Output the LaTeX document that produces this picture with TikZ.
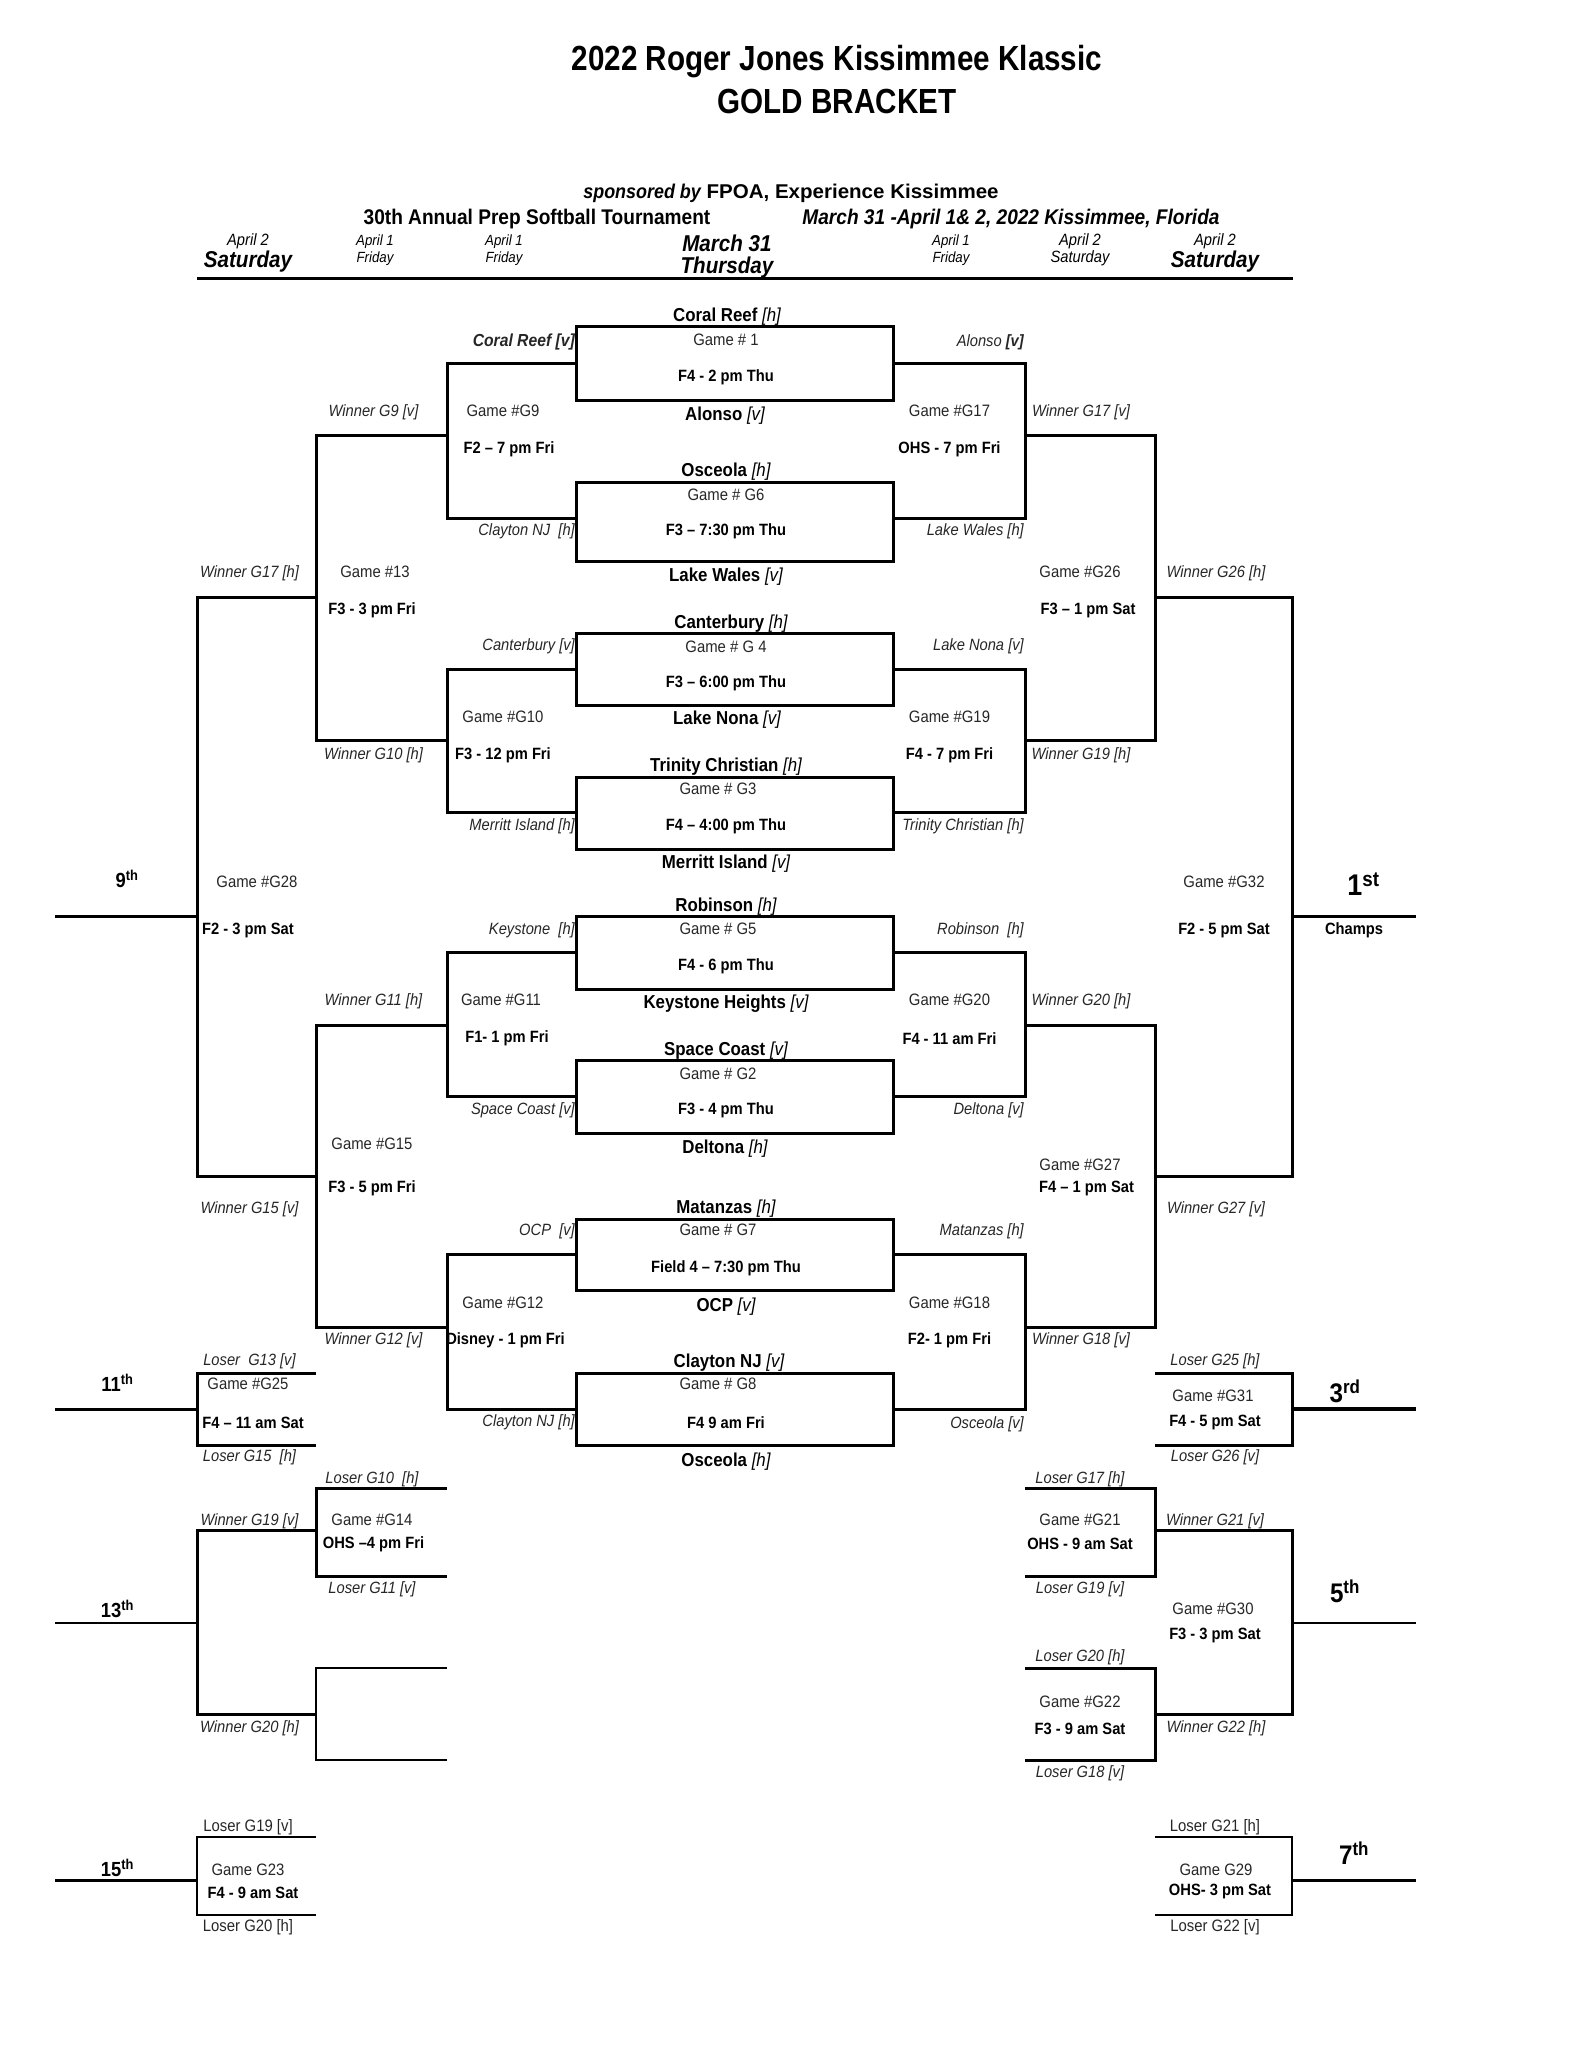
\documentclass[tikz,border=0pt]{standalone}
\usepackage{fontspec}
\setmainfont{Liberation Sans}[FakeStretch=0.9]
\newfontfamily\narrowfont{Liberation Sans}[FakeStretch=0.85]
\newfontfamily\widefont{Liberation Sans}[FakeStretch=1.03]
\usepackage{tikz}
\def\bracketarm[#1](#2)(#3:#4:#5){\draw[#1] (#3, #4) -- (#2, #4) -- (#2, #5) -- (#3, #5);}
\tikzset{
	bk/.style={line width=3bp},
	thin line/.style={line width=2.2bp},
	txt/.style={inner sep=0pt, text=black, yshift=-1.4bp},
	slot/.style={txt, font=\fontsize{16.4}{18}\selectfont\itshape, text=black!85},
	slotr/.style={slot, anchor=east},
	game/.style={txt, yshift=1.2bp, font=\fontsize{16.6}{18}\selectfont, text=black!85},
	gtime/.style={txt, font=\fontsize{16.4}{18}\selectfont\bfseries},
	team/.style={txt, font=\fontsize{18.8}{20}\selectfont\bfseries},
	place/.style={txt, yshift=2.4bp, font=\fontsize{20.5}{22}\selectfont\bfseries},
	bigplace/.style={txt, font=\fontsize{27}{28}\selectfont\bfseries},
	daysmall/.style={txt, font=\fontsize{14.8}{16}\selectfont\itshape},
	daymid/.style={txt, font=\fontsize{16.4}{18}\selectfont\itshape},
	daybig/.style={txt, font=\fontsize{23}{26}\selectfont\bfseries\itshape},
	headline/.style={txt, font=\fontsize{21.3}{24}\selectfont\bfseries},
	titleline/.style={txt, font=\fontsize{35}{38}\selectfont\narrowfont\bfseries},
}
\def\tag#1{{\mdseries\itshape #1}}

\begin{document}
\begin{tikzpicture}[x=1bp, y=-1bp]
			\useasboundingbox (0, 0) rectangle (1583, 2048);

			%%%%% HEADER %%%%%

			\node[titleline] (title) at (837, 60) {2022 Roger Jones Kissimmee Klassic};
			\node[titleline] (gold) at (837, 100) {GOLD BRACKET};
			\node[txt, font=\fontsize{20}{22}\selectfont\bfseries] (sponsor) at (791, 192) {\textit{sponsored by} {\widefont FPOA, Experience Kissimmee}};
			\node[headline] (annual) at (537, 218) {30th Annual Prep Softball Tournament};
			\node[headline, font=\fontsize{21.3}{24}\selectfont\bfseries\itshape] (dates) at (1011, 218) {March 31 -April 1\& 2, 2022 Kissimmee, Florida};

			\node[daymid] (d1a) at (248, 240) {April 2};
			\node[daybig] (d1b) at (248, 260) {Saturday};
			\node[daysmall] (d2a) at (375, 240) {April 1};
			\node[daysmall] (d2b) at (375, 257) {Friday};
			\node[daysmall] (d3a) at (504, 240) {April 1};
			\node[daysmall] (d3b) at (504, 257) {Friday};
			\node[daybig] (d4a) at (727, 242) {March 31};
			\node[daybig] (d4b) at (727, 266) {Thursday};
			\node[daysmall] (d5a) at (951, 240) {April 1};
			\node[daysmall] (d5b) at (951, 257) {Friday};
			\node[daymid] (d6a) at (1080, 240) {April 2};
			\node[daymid] (d6b) at (1080, 257) {Saturday};
			\node[daymid] (d7a) at (1215, 240) {April 2};
			\node[daybig] (d7b) at (1215, 260) {Saturday};

			\draw[line width=3bp] (197, 278) -- (1293, 278);

			%%%%% BOXES %%%%%

			\draw[bk] (576, 326.5) rectangle (893, 400);
			\draw[bk] (576, 482) rectangle (893, 561.6);
			\draw[bk] (576, 633.5) rectangle (893, 705);
			\draw[bk] (576, 777) rectangle (893, 849);
			\draw[bk] (576, 916) rectangle (893, 989);
			\draw[bk] (576, 1060.8) rectangle (893, 1133);
			\draw[bk] (576, 1219) rectangle (893, 1290);
			\draw[bk] (576, 1373) rectangle (893, 1445);

			%%%%% LEFT LINES %%%%%

			\bracketarm[bk](447)(576:363:518.5);
			\bracketarm[bk](447)(576:669:812);
			\bracketarm[bk](447)(576:952.7:1096.7);
			\bracketarm[bk](447)(576:1254.7:1409);
			\bracketarm[bk](316)(447:435:740.5);
			\bracketarm[bk](316)(447:1025:1327);
			\bracketarm[bk](197)(316:597:1176);
			\draw[bk] (55, 916) -- (197, 916);

			\bracketarm[bk](197)(316:1373:1445);
			\draw[bk] (55, 1409) -- (197, 1409);
			\bracketarm[bk](316)(447:1488:1576);
			\bracketarm[thin line](316)(447:1668:1760);
			\bracketarm[bk](197)(316:1530.7:1714);
			\draw[thin line] (55, 1623) -- (197, 1623);
			\bracketarm[thin line](197)(316:1837:1915);
			\draw[bk] (55, 1880) -- (197, 1880);

			%%%%% RIGHT LINES %%%%%

			\bracketarm[bk](1025)(893:363:518.5);
			\bracketarm[bk](1025)(893:669:812);
			\bracketarm[bk](1025)(893:952.7:1096.7);
			\bracketarm[bk](1025)(893:1254.7:1409);
			\bracketarm[bk](1155)(1025:435:740.5);
			\bracketarm[bk](1155)(1025:1025:1327);
			\bracketarm[bk](1292)(1155:597:1176);
			\draw[bk] (1292, 916) -- (1416, 916);

			\bracketarm[bk](1292)(1155:1373:1445);
			\draw[line width=3.4bp] (1292, 1409) -- (1416, 1409);
			\bracketarm[bk](1155)(1025:1488:1576);
			\bracketarm[bk](1155)(1025:1668.6:1760.5);
			\bracketarm[bk](1292)(1155:1530.7:1714);
			\draw[thin line] (1292, 1623) -- (1416, 1623);
			\bracketarm[thin line](1292)(1155:1837:1915);
			\draw[bk] (1292, 1880) -- (1416, 1880);

			%%%%% TEAMS %%%%%

			\node[team] (t1a) at (727, 315) {Coral Reef \tag{[h]}};
			\node[team] (t1b) at (725, 414) {Alonso \tag{[v]}};
			\node[team] (t6a) at (726, 470) {Osceola \tag{[h]}};
			\node[team] (t6b) at (726, 575) {Lake Wales \tag{[v]}};
			\node[team] (t4a) at (731, 622) {Canterbury \tag{[h]}};
			\node[team] (t4b) at (727, 718) {Lake Nona \tag{[v]}};
			\node[team] (t3a) at (726, 765) {Trinity Christian \tag{[h]}};
			\node[team] (t3b) at (726, 862) {Merritt Island \tag{[v]}};
			\node[team] (t5a) at (726, 905) {Robinson \tag{[h]}};
			\node[team] (t5b) at (726, 1002) {Keystone Heights \tag{[v]}};
			\node[team] (t2a) at (726, 1049) {Space Coast \tag{[v]}};
			\node[team] (t2b) at (725, 1147) {Deltona \tag{[h]}};
			\node[team] (t7a) at (726, 1207) {Matanzas \tag{[h]}};
			\node[team] (t7b) at (726, 1305) {OCP \tag{[v]}};
			\node[team] (t8a) at (729, 1361) {Clayton NJ \tag{[v]}};
			\node[team] (t8b) at (726, 1460) {Osceola \tag{[h]}};

			%%%%% FIRST ROUND %%%%%

			\node[game] (g1) at (726, 340) {Game \# 1};
			\node[gtime] (g1t) at (726, 376) {F4 - 2 pm Thu};
			\node[game] (g6) at (726, 495) {Game \# G6};
			\node[gtime] (g6t) at (726, 530) {F3 -- 7:30 pm Thu};
			\node[game] (g4) at (726, 646.5) {Game \# G 4};
			\node[gtime] (g4t) at (726, 682) {F3 -- 6:00 pm Thu};
			\node[game] (g3) at (718, 789) {Game \# G3};
			\node[gtime] (g3t) at (726, 825) {F4 -- 4:00 pm Thu};
			\node[game] (g5) at (718, 929) {Game \# G5};
			\node[gtime] (g5t) at (726, 965) {F4 - 6 pm Thu};
			\node[game] (g2) at (718, 1073.6) {Game \# G2};
			\node[gtime] (g2t) at (726, 1109) {F3 - 4 pm Thu};
			\node[game] (g7) at (718, 1230) {Game \# G7};
			\node[gtime] (g7t) at (726, 1267) {Field 4 -- 7:30 pm Thu};
			\node[game] (g8) at (718, 1384) {Game \# G8};
			\node[gtime] (g8t) at (726, 1421) {F4 9 am Fri};

			\node[slotr, font=\fontsize{17.5}{18}\selectfont\bfseries\itshape] (sl1) at (575, 341) {Coral Reef [v]};
			\node[slotr] (sl2) at (575, 530) {Clayton NJ\ \ [h]};
			\node[slotr] (sl3) at (575, 645) {Canterbury [v]};
			\node[slotr] (sl4) at (575, 825) {Merritt Island [h]};
			\node[slotr] (sl5) at (575, 929) {Keystone\ \ [h]};
			\node[slotr] (sl6) at (575, 1109) {Space Coast [v]};
			\node[slotr] (sl7) at (575, 1230) {OCP\ \ [v]};
			\node[slotr] (sl8) at (575, 1421) {Clayton NJ [h]};

			\node[slotr] (sr1) at (1024, 341) {Alonso \textbf{[v]}};
			\node[slotr] (sr2) at (1024, 530) {Lake Wales [h]};
			\node[slotr] (sr3) at (1024, 645) {Lake Nona [v]};
			\node[slotr] (sr4) at (1024, 825) {Trinity Christian [h]};
			\node[slotr] (sr5) at (1024, 929) {Robinson\ \ [h]};
			\node[slotr] (sr6) at (1024, 1109) {Deltona [v]};
			\node[slotr] (sr7) at (1024, 1230) {Matanzas [h]};
			\node[slotr] (sr8) at (1024, 1423) {Osceola [v]};

			%%%%% SECOND ROUND %%%%%

			\node[game] (g9) at (503, 411) {Game \#G9};
			\node[gtime] (g9t) at (509, 448) {F2 -- 7 pm Fri};
			\node[game] (g10) at (503, 717) {Game \#G10};
			\node[gtime] (g10t) at (503, 754) {F3 - 12 pm Fri};
			\node[game] (g11) at (501, 1000) {Game \#G11};
			\node[gtime] (g11t) at (507, 1037) {F1- 1 pm Fri};
			\node[game] (g12) at (503, 1303) {Game \#G12};
			\node[gtime] (g12t) at (505.5, 1339) {Disney - 1 pm Fri};

			\node[game] (g17) at (949.5, 411) {Game \#G17};
			\node[gtime] (g17t) at (949.5, 448) {OHS - 7 pm Fri};
			\node[game] (g19) at (949.5, 717) {Game \#G19};
			\node[gtime] (g19t) at (949.5, 754) {F4 - 7 pm Fri};
			\node[game] (g20) at (949.5, 1000) {Game \#G20};
			\node[gtime] (g20t) at (949.5, 1037) {F4 - 11 am Fri};
			\node[game] (g18) at (949.5, 1303) {Game \#G18};
			\node[gtime] (g18t) at (949.5, 1339) {F2- 1 pm Fri};

			%%%%% THIRD ROUND %%%%%

			\node[slot] (w9) at (373.5, 411) {Winner G9 [v]};
			\node[game] (g13) at (375, 572) {Game \#13};
			\node[gtime] (g13t) at (372, 609) {F3 - 3 pm Fri};
			\node[slot] (w10) at (373.5, 754) {Winner G10 [h]};
			\node[slot] (w11) at (373.5, 1000) {Winner G11 [h]};
			\node[game] (g15) at (372, 1144) {Game \#G15};
			\node[gtime] (g15t) at (372, 1187) {F3 - 5 pm Fri};
			\node[slot] (w12) at (373.5, 1339) {Winner G12 [v]};

			\node[slot] (w17) at (1081, 411) {Winner G17 [v]};
			\node[game] (g26) at (1080, 572) {Game \#G26};
			\node[gtime] (g26t) at (1088, 609) {F3 -- 1 pm Sat};
			\node[slot] (w19) at (1081, 754) {Winner G19 [h]};
			\node[slot] (w20) at (1081, 1000) {Winner G20 [h]};
			\node[game] (g27) at (1080, 1165) {Game \#G27};
			\node[gtime] (g27t) at (1086.5, 1187) {F4 -- 1 pm Sat};
			\node[slot] (w18) at (1081, 1339) {Winner G18 [v]};

			%%%%% FINALS %%%%%

			\node[slot] (w17b) at (249.5, 572) {Winner G17 [h]};
			\node[game] (g28) at (257, 881.6) {Game \#G28};
			\node[gtime] (g28t) at (248, 929) {F2 - 3 pm Sat};
			\node[slot] (w15) at (249.5, 1208) {Winner G15 [v]};
			\node[place] (p9) at (127, 880) {9\textsuperscript{th}};

			\node[slot] (w26) at (1216, 572) {Winner G26 [h]};
			\node[game] (g32) at (1224, 881.6) {Game \#G32};
			\node[gtime] (g32t) at (1224, 929) {F2 - 5 pm Sat};
			\node[slot] (w27) at (1216, 1208) {Winner G27 [v]};
			\node[bigplace, font=\fontsize{30}{32}\selectfont\bfseries] (p1) at (1363.5, 883) {1\textsuperscript{st}};
			\node[gtime] (champs) at (1354, 929) {Champs};

			%%%%% LOWER LEFT %%%%%

			\node[slot] (l13) at (249.5, 1360) {Loser\ \ G13 [v]};
			\node[game] (g25) at (248, 1384) {Game \#G25};
			\node[gtime] (g25t) at (253, 1421) {F4 -- 11 am Sat};
			\node[slot] (l15) at (249.5, 1456) {Loser G15\ \ [h]};
			\node[place] (p11) at (117.5, 1384) {11\textsuperscript{th}};

			\node[slot] (l10) at (372, 1478) {Loser G10\ \ [h]};
			\node[game] (g14) at (372, 1520) {Game \#G14};
			\node[gtime] (g14t) at (373.5, 1542.5) {OHS --4 pm Fri};
			\node[slot] (l11) at (372, 1588) {Loser G11 [v]};
			\node[slot] (w19b) at (249.5, 1520) {Winner G19 [v]};
			\node[slot] (w20b) at (249.5, 1727) {Winner G20 [h]};
			\node[place] (p13) at (117.5, 1610) {13\textsuperscript{th}};

			\node[game] (l19) at (248, 1827) {Loser G19 [v]};
			\node[game] (g23) at (248, 1870) {Game G23};
			\node[gtime] (g23t) at (253, 1891) {F4 - 9 am Sat};
			\node[game] (l20) at (248, 1926.5) {Loser G20 [h]};
			\node[place] (p15) at (117.5, 1869) {15\textsuperscript{th}};

			%%%%% LOWER RIGHT %%%%%

			\node[slot] (l25) at (1215, 1360) {Loser G25 [h]};
			\node[game] (g31) at (1213, 1396) {Game \#G31};
			\node[gtime] (g31t) at (1215, 1421) {F4 - 5 pm Sat};
			\node[slot] (l26) at (1215, 1456) {Loser G26 [v]};
			\node[bigplace] (p3) at (1345, 1390) {3\textsuperscript{rd}};

			\node[slot] (l17) at (1080, 1478) {Loser G17 [h]};
			\node[game] (g21) at (1080, 1520) {Game \#G21};
			\node[gtime] (g21t) at (1080, 1542.5) {OHS - 9 am Sat};
			\node[slot] (l19b) at (1080, 1588) {Loser G19 [v]};
			\node[slot] (w21) at (1215, 1520) {Winner G21 [v]};
			\node[game] (g30) at (1213, 1609) {Game \#G30};
			\node[gtime] (g30t) at (1215, 1634) {F3 - 3 pm Sat};
			\node[slot] (w22) at (1216, 1727) {Winner G22 [h]};
			\node[bigplace] (p5) at (1345, 1590) {5\textsuperscript{th}};

			\node[slot] (l20b) at (1080, 1656) {Loser G20 [h]};
			\node[game] (g22) at (1080, 1702) {Game \#G22};
			\node[gtime] (g22t) at (1080, 1727) {F3 - 9 am Sat};
			\node[slot] (l18) at (1080, 1772) {Loser G18 [v]};

			\node[game] (l21) at (1215, 1827) {Loser G21 [h]};
			\node[game] (g29) at (1216, 1870) {Game G29};
			\node[gtime] (g29t) at (1220, 1890) {OHS- 3 pm Sat};
			\node[game] (l22) at (1215, 1926.5) {Loser G22 [v]};
			\node[bigplace] (p7) at (1354, 1852) {7\textsuperscript{th}};

		\end{tikzpicture}
\end{document}
